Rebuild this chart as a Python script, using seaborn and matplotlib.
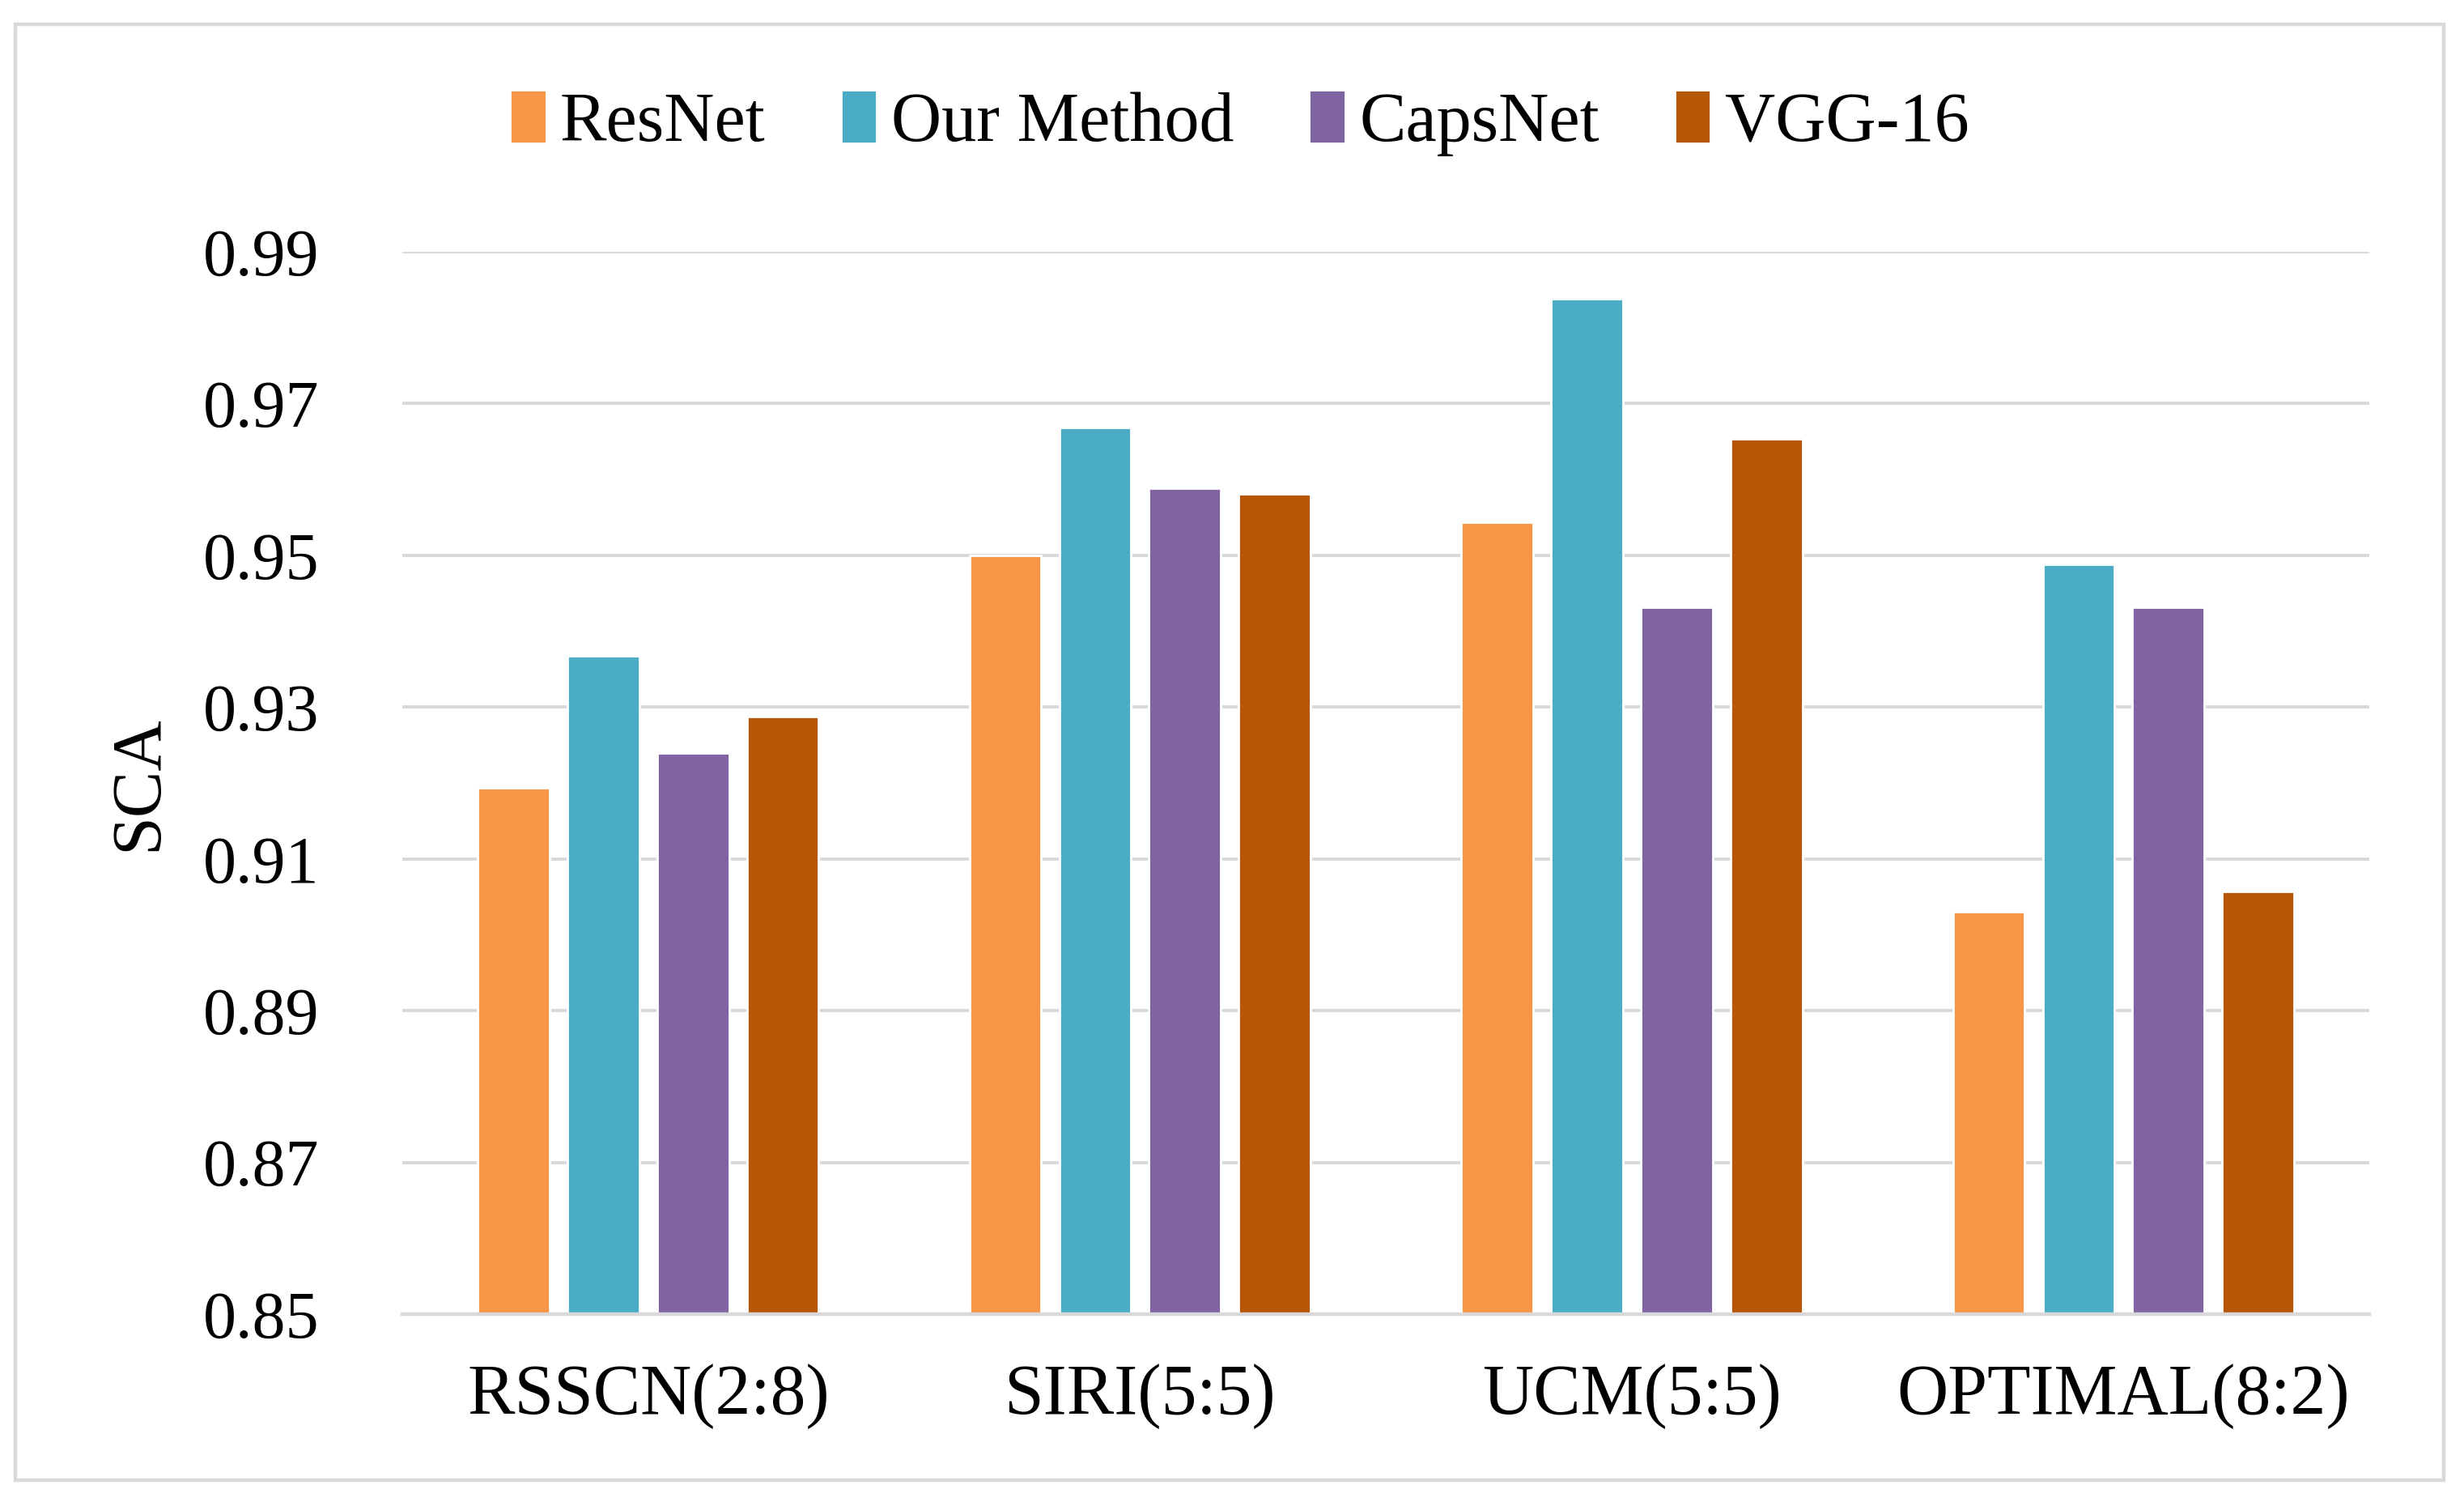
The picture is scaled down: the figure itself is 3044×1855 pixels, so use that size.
import matplotlib
matplotlib.use("Agg")
import matplotlib.pyplot as plt
import seaborn as sns
import pandas as pd
from matplotlib.patches import Rectangle

categories = ["RSSCN(2:8)", "SIRI(5:5)", "UCM(5:5)", "OPTIMAL(8:2)"]
methods = ["ResNet", "Our Method", "CapsNet", "VGG-16"]
resnet = [0.9194, 0.9500, 0.9544, 0.9030]
our_method = [0.9368, 0.9668, 0.9838, 0.9488]
capsnet = [0.9239, 0.9589, 0.9432, 0.9432]
vgg16 = [0.9287, 0.9581, 0.9654, 0.9057]
yticks = [0.85, 0.87, 0.89, 0.91, 0.93, 0.95, 0.97, 0.99]
colors = ["#F79646", "#4BACC6", "#8064A2", "#B65708"]

rows = []
for m, vals in zip(methods, [resnet, our_method, capsnet, vgg16]):
    for c, v in zip(categories, vals):
        rows.append({"Dataset": c, "Method": m, "SCA": v})
df = pd.DataFrame(rows)

sns.set_theme(style="white")
plt.rcParams["font.family"] = ["Liberation Serif", "DejaVu Serif"]
plt.rcParams["text.color"] = "black"
plt.rcParams["axes.labelcolor"] = "black"

fig = plt.figure(figsize=(15.22, 9.275), dpi=200)
ax = fig.add_axes([0.1633, 0.1251, 0.7983, 0.7072])

sns.barplot(data=df, x="Dataset", y="SCA", hue="Method", order=categories,
            hue_order=methods, palette=colors, width=0.73, gap=0.2,
            saturation=1, ax=ax, legend=True)

ax.set_ylim(0.85, 0.99)
ax.set_yticks(yticks)
ax.set_yticklabels([f"{t:.2f}" for t in yticks])
ax.yaxis.grid(True, color="#D9D9D9", linewidth=1.4)
ax.set_axisbelow(True)
for s in ["top", "right", "left"]:
    ax.spines[s].set_visible(False)
ax.spines["bottom"].set_color("#D9D9D9")
ax.spines["bottom"].set_linewidth(1.6)
ax.tick_params(axis="both", length=0, colors="black", labelcolor="black")
ax.tick_params(axis="x", pad=22, labelsize=31.5)
ax.tick_params(axis="y", pad=37, labelsize=29.5)
ax.set_xlabel("")
ax.set_ylabel("SCA", fontsize=31, labelpad=14, color="black")
ax.set_xlim(-0.5, 3.5)

handles, labels = ax.get_legend_handles_labels()
ax.get_legend().remove()
fig.legend(handles, labels, loc="center", bbox_to_anchor=(0.503, 0.918),
           ncol=4, frameon=False, fontsize=31, handlelength=0.52,
           handleheight=0.8, handletextpad=0.2, columnspacing=1.08,
           labelcolor="black")

fig.patches.append(Rectangle((0.0064, 0.0146), 0.9853, 0.9694,
                             transform=fig.transFigure, fill=False,
                             edgecolor="#D9D9D9", linewidth=1.6))

fig.savefig("out.png", dpi=200, facecolor="white")
